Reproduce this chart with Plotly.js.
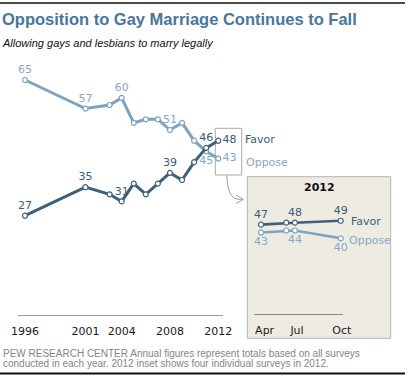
<!DOCTYPE html>
<html>
<head>
<meta charset="utf-8">
<script src="https://cdn.plot.ly/plotly-3.0.1.min.js"></script>
<style>html,body{margin:0;padding:0;background:#fff;}#chart{width:409px;height:382px;}</style>
</head>
<body>
<div id="chart"></div>
<script>
// ---- data ----
const years = [1996, 2001, 2003, 2004, 2005, 2006, 2007, 2008, 2009, 2010, 2011, 2012];
const oppose = [65, 57, 58, 60, 53, 54, 54, 51, 53, 48, 45, 43];
const favor  = [27, 35, 33, 31, 36, 33, 36, 39, 37, 42, 46, 48];
const opposeLabels = ['65', '57', '', '60', '', '', '', '51', '', '', '45', '43'];
const favorLabels  = ['27', '35', '', '31', '', '', '', '39', '', '', '46', '48'];
const yearTicks = [1996, 2001, 2004, 2008, 2012];
const yearTickText = ['1996', '2001', '2004', '2008', '2012'];

// 2012 inset: four individual surveys (approximate month position)
const insetMonths = [4.0, 5.9, 6.55, 10.0];
const insetFavor  = [47, 48, 48, 49];
const insetOppose = [43, 44, 44, 40];
const insetFavorLabels  = ['47', '', '48', '49'];
const insetOpposeLabels = ['43', '', '44', '40'];
const insetTickVals = [4.27, 6.71, 10.08];
const insetTickText = ['Apr', 'Jul', 'Oct'];

// ---- styling ----
const W = 409, H = 382;
const px = x => x / W;
const py = y => 1 - y / H;
const FAV = '#3E607A', OPP = '#7FA2BE';
const FAVT = '#3A5C76', OPPT = '#86A8C6';
const NUMFONT = 'DejaVu Sans';

function posList(labels, def, special) {
  return labels.map((l, i) => special[i] || def);
}

const traces = [
  {
    x: years, y: oppose, type: 'scatter', mode: 'lines+markers+text',
    text: opposeLabels,
    textposition: posList(opposeLabels, 'top center', {10: 'bottom center', 11: 'middle right'}),
    textfont: {family: NUMFONT, size: 11, color: OPPT},
    line: {color: OPP, width: 3},
    marker: {size: 5, color: '#fff', line: {color: OPP, width: 1.2}},
    cliponaxis: false, hoverinfo: 'skip', xaxis: 'x', yaxis: 'y'
  },
  {
    x: years, y: favor, type: 'scatter', mode: 'lines+markers+text',
    text: favorLabels,
    textposition: posList(favorLabels, 'top center', {11: 'middle right'}),
    textfont: {family: NUMFONT, size: 11, color: FAVT},
    line: {color: FAV, width: 3},
    marker: {size: 5, color: '#fff', line: {color: FAV, width: 1.2}},
    cliponaxis: false, hoverinfo: 'skip', xaxis: 'x', yaxis: 'y'
  },
  {
    x: insetMonths, y: insetOppose, type: 'scatter', mode: 'lines+markers+text',
    text: insetOpposeLabels, textposition: 'bottom center',
    textfont: {family: NUMFONT, size: 11, color: OPPT},
    line: {color: OPP, width: 2.6},
    marker: {size: 5, color: '#fff', line: {color: OPP, width: 1.2}},
    cliponaxis: false, hoverinfo: 'skip', xaxis: 'x2', yaxis: 'y2'
  },
  {
    x: insetMonths, y: insetFavor, type: 'scatter', mode: 'lines+markers+text',
    text: insetFavorLabels, textposition: 'top center',
    textfont: {family: NUMFONT, size: 11, color: FAVT},
    line: {color: FAV, width: 2.6},
    marker: {size: 5, color: '#fff', line: {color: FAV, width: 1.2}},
    cliponaxis: false, hoverinfo: 'skip', xaxis: 'x2', yaxis: 'y2'
  }
];

const n = years.length - 1;
const m = insetMonths.length - 1;

const layout = {
  width: W, height: H,
  margin: {l: 0, r: 0, t: 0, b: 0},
  paper_bgcolor: '#fff', plot_bgcolor: 'rgba(0,0,0,0)',
  showlegend: false,
  xaxis: {
    domain: [px(18), px(223)], range: [1995.42, 2012.39],
    tickvals: yearTicks, ticktext: yearTickText, ticks: '',
    showline: true, linecolor: '#999', linewidth: 1,
    showgrid: false, zeroline: false, ticklabelstandoff: 6,
    tickfont: {family: NUMFONT, size: 11, color: '#1a1a1a'}, fixedrange: true
  },
  yaxis: {
    domain: [py(315), py(60)], range: [-0.8, 70.6], visible: false, fixedrange: true
  },
  xaxis2: {
    domain: [px(254), px(342.7)], range: [3.47, 10.15], anchor: 'y2',
    tickvals: insetTickVals, ticktext: insetTickText, ticks: '',
    showline: true, linecolor: '#888', linewidth: 1,
    showgrid: false, zeroline: false, ticklabelstandoff: 5,
    tickfont: {family: NUMFONT, size: 11, color: '#1a1a1a'}, fixedrange: true
  },
  yaxis2: {
    domain: [py(314.3), py(200)], range: [1.15, 59.6], anchor: 'x2', visible: false, fixedrange: true
  },
  shapes: [
    {type: 'line', xref: 'paper', yref: 'paper', x0: px(0), x1: px(405), y0: py(3), y1: py(3),
     line: {color: '#111', width: 1.5}},
    {type: 'line', xref: 'paper', yref: 'paper', x0: px(0), x1: px(405), y0: py(373.5), y1: py(373.5),
     line: {color: '#111', width: 2}},
    {type: 'rect', xref: 'paper', yref: 'paper', x0: px(247.3), x1: px(390.7), y0: py(338.3), y1: py(176.7),
     fillcolor: '#EEEBE3', line: {color: '#B5B5B5', width: 1}, layer: 'below'},
    {type: 'rect', xref: 'paper', yref: 'paper', x0: px(215.3), x1: px(241.7), y0: py(175), y1: py(128.3),
     fillcolor: 'rgba(0,0,0,0)', line: {color: '#AAAAAA', width: 1}, layer: 'below'},
    {type: 'path', xref: 'paper', yref: 'paper',
     path: `M ${px(226.7)} ${py(175)} L ${px(227.5)} ${py(184)} Q ${px(229.5)} ${py(198.5)} ${px(238)} ${py(199.3)} L ${px(243.3)} ${py(199.3)}`,
     line: {color: '#A0A0A0', width: 1}},
    {type: 'path', xref: 'paper', yref: 'paper',
     path: `M ${px(236)} ${py(195)} L ${px(243.3)} ${py(199.3)} L ${px(236)} ${py(203.5)}`,
     line: {color: '#A0A0A0', width: 1}}
  ],
  annotations: [
    {text: '<b>Opposition to Gay Marriage Continues to Fall</b>', xref: 'paper', yref: 'paper',
     x: px(0), y: py(18.5), xanchor: 'left', yanchor: 'middle', showarrow: false,
     font: {family: 'Liberation Sans', size: 16.5, color: '#4A7698'}},
    {text: '<i>Allowing gays and lesbians to marry legally</i>', xref: 'paper', yref: 'paper',
     x: px(0), y: py(43.3), xanchor: 'left', yanchor: 'middle', showarrow: false,
     font: {family: 'Liberation Sans', size: 11, color: '#111'}},
    {text: 'PEW RESEARCH CENTER Annual figures represent totals based on all surveys', xref: 'paper', yref: 'paper',
     x: px(0.5), y: py(353.7), xanchor: 'left', yanchor: 'middle', showarrow: false,
     font: {family: 'Liberation Sans', size: 10, color: '#858585'}},
    {text: 'conducted in each year. 2012 inset shows four individual surveys in 2012.', xref: 'paper', yref: 'paper',
     x: px(0.5), y: py(363.7), xanchor: 'left', yanchor: 'middle', showarrow: false,
     font: {family: 'Liberation Sans', size: 10, color: '#858585'}},
    {text: 'Favor', xref: 'x', yref: 'y', x: years[n], y: favor[n], xanchor: 'left', yanchor: 'middle',
     xshift: 25, yshift: 1, showarrow: false, font: {family: NUMFONT, size: 11, color: FAVT}},
    {text: 'Oppose', xref: 'x', yref: 'y', x: years[n], y: oppose[n], xanchor: 'left', yanchor: 'middle',
     xshift: 26, yshift: -4, showarrow: false, font: {family: NUMFONT, size: 11, color: OPPT}},
    {text: '<b>2012</b>', xref: 'paper', yref: 'paper', x: px(319), y: py(187.7), xanchor: 'center', yanchor: 'middle',
     showarrow: false, font: {family: NUMFONT, size: 11, color: '#111'}},
    {text: 'Favor', xref: 'x2', yref: 'y2', x: insetMonths[m], y: insetFavor[m], xanchor: 'left', yanchor: 'middle',
     xshift: 8, yshift: -1, showarrow: false, font: {family: NUMFONT, size: 11, color: FAVT}},
    {text: 'Oppose', xref: 'x2', yref: 'y2', x: insetMonths[m], y: insetOppose[m], xanchor: 'left', yanchor: 'middle',
     xshift: 6.5, yshift: -1.7, showarrow: false, font: {family: NUMFONT, size: 11, color: OPPT}}
  ]
};

Plotly.newPlot('chart', traces, layout, {displayModeBar: false, staticPlot: true});
</script>
</body>
</html>
